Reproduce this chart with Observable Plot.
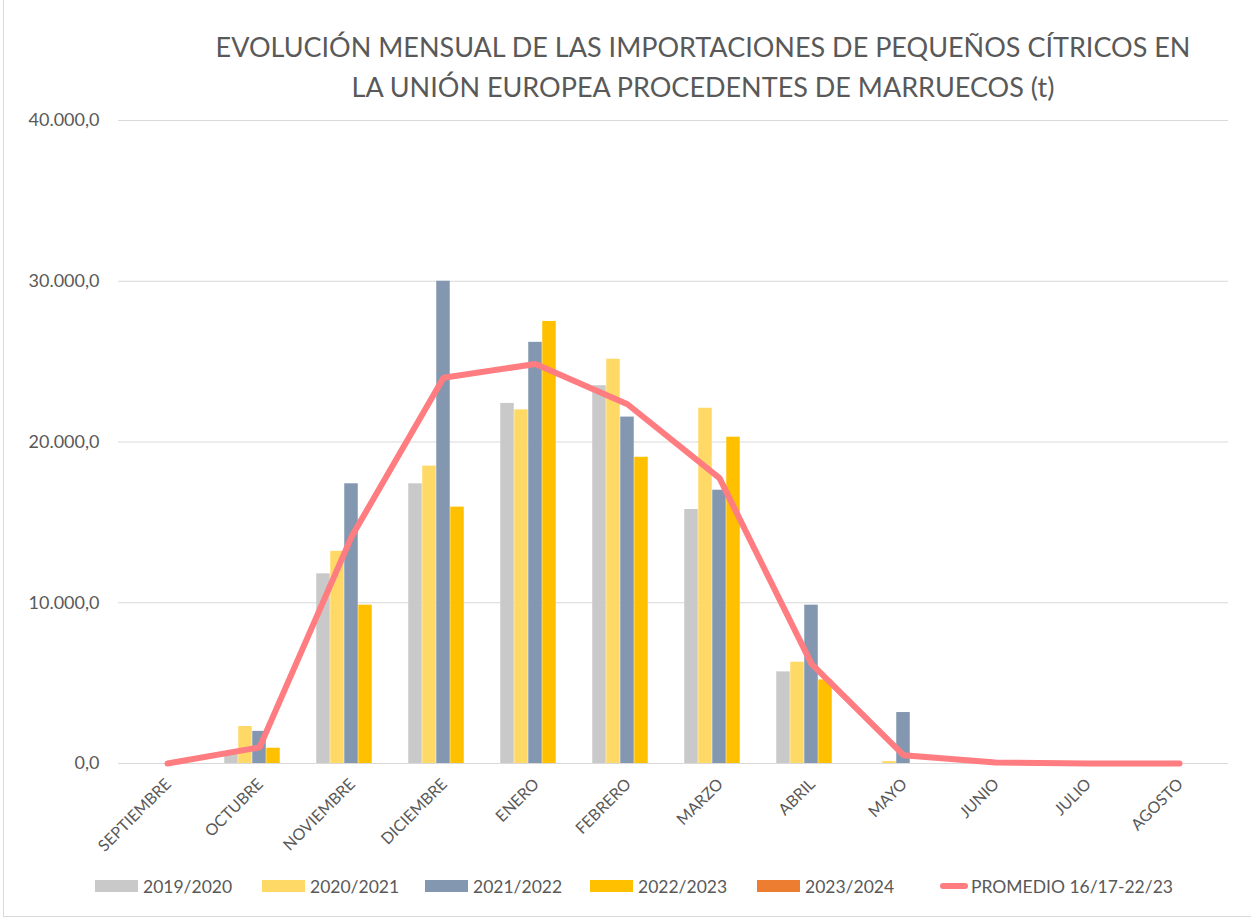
<!DOCTYPE html>
<html>
<head>
<meta charset="utf-8">
<script src="https://cdn.jsdelivr.net/npm/d3@7"></script>
<script src="https://cdn.jsdelivr.net/npm/@observablehq/plot@0.6"></script>
<style>
  html, body { margin: 0; padding: 0; background: #fff; }
  body { width: 1252px; height: 918px; position: relative; overflow: hidden; font-family: Lato, "Open Sans", sans-serif; }
  #frame { position: absolute; left: 3px; top: 0; width: 1248px; height: 917px; border-left: 1px solid #d9d9d9; border-bottom: 1px solid #d9d9d9; box-sizing: border-box; }
  #title { position: absolute; left: 153px; width: 1100px; top: 27px; text-align: center; color: #595959; font-size: 27px; line-height: 40px; font-weight: 400; }
  #chart { position: absolute; left: 0; top: 105px; }
  #legend { position: absolute; left: 0; top: 876px; height: 20px; width: 1252px; color: #595959; font-size: 17.5px; }
  .item { position: absolute; top: 0; display: flex; align-items: center; height: 20px; white-space: nowrap; }
  .sw { width: 43px; height: 12px; margin-right: 5px; }
  .ln { width: 28px; height: 6px; border-radius: 3px; margin-right: 3px; }
</style>
</head>
<body>
<div id="frame"></div>
<div id="title">EVOLUCIÓN MENSUAL DE LAS IMPORTACIONES DE PEQUEÑOS CÍTRICOS EN<br>LA UNIÓN EUROPEA PROCEDENTES DE MARRUECOS (t)</div>
<div id="chart"></div>
<div id="legend"></div>
<script>
const months = ["SEPTIEMBRE","OCTUBRE","NOVIEMBRE","DICIEMBRE","ENERO","FEBRERO","MARZO","ABRIL","MAYO","JUNIO","JULIO","AGOSTO"];
const seriesNames = ["2019/2020","2020/2021","2021/2022","2022/2023","2023/2024"];
const seriesColors = ["#C9C9C9","#FFD966","#8497B0","#FFC000","#ED7D31"];
const v2019_2020 = [0, 600, 11800, 17400, 22400, 23500, 15800, 5700, 0, 0, 0, 0];
const v2020_2021 = [0, 2300, 13200, 18500, 22000, 25150, 22100, 6300, 120, 0, 0, 0];
const v2021_2022 = [0, 2000, 17400, 30000, 26200, 21550, 17000, 9850, 3170, 0, 0, 0];
const v2022_2023 = [0, 950, 9850, 15950, 27500, 19050, 20300, 5200, 0, 0, 0, 0];
const v2023_2024 = [0, 0, 0, 0, 0, 0, 0, 0, 0, 0, 0, 0];
const promedioName = "PROMEDIO 16/17-22/23";
const promedioColor = "#FF7C80";
const promedio = [0, 1000, 14100, 24000, 24850, 22350, 17750, 6200, 520, 60, 0, 0];
const yTicks = [0, 10000, 20000, 30000, 40000];

const allSeries = [v2019_2020, v2020_2021, v2021_2022, v2022_2023, v2023_2024];
const locale = d3.formatLocale({decimal: ",", thousands: ".", grouping: [3], currency: ["", "€"]});
const fmt = locale.format(",.1f");

const barW = 14;
const bandW = (1228 - 118) / months.length;
const barMarks = allSeries.map((vals, i) => {
  const data = months.map((m, j) => ({month: m, value: vals[j]}));
  const inset = (bandW - barW) / 2;
  return Plot.barY(data, {
    x: "month", y: "value", fill: seriesColors[i],
    insetLeft: inset, insetRight: inset, dx: (i - 2) * barW
  });
});
const lineData = months.map((m, j) => ({month: m, value: promedio[j]}));

const chart = Plot.plot({
  width: 1252,
  height: 755,
  marginLeft: 118,
  marginRight: 24,
  marginTop: 15,
  marginBottom: 97,
  style: {fontFamily: "Lato, 'Open Sans', sans-serif", fontSize: "15px", color: "#595959", background: "transparent", overflow: "visible"},
  x: {domain: months, padding: 0, label: null},
  y: {domain: [0, 40000], label: null},
  marks: [
    Plot.gridY(yTicks, {stroke: "#D9D9D9", strokeOpacity: 1, strokeWidth: 1}),
    ...barMarks,
    Plot.line(lineData, {x: "month", y: "value", stroke: promedioColor, strokeWidth: 6, strokeLinejoin: "miter"}),
    Plot.axisY(yTicks, {tickSize: 0, tickPadding: 19, tickFormat: fmt, fontSize: 18, fill: "#595959"}),
    Plot.axisX({tickSize: 0, tickPadding: 18, tickRotate: -45, fontSize: 16, fill: "#595959", label: null, dx: 1})
  ]
});
document.getElementById("chart").appendChild(chart);

const legend = document.getElementById("legend");
const lefts = [95, 262, 425, 590, 757, 940];
seriesNames.forEach((name, i) => {
  const it = document.createElement("div");
  it.className = "item";
  it.style.left = lefts[i] + "px";
  it.innerHTML = `<span class="sw" style="background:${seriesColors[i]}"></span><span>${name}</span>`;
  legend.appendChild(it);
});
const li = document.createElement("div");
li.className = "item";
li.style.left = lefts[5] + "px";
li.innerHTML = `<span class="ln" style="background:${promedioColor}"></span><span>${promedioName}</span>`;
legend.appendChild(li);
</script>
</body>
</html>
